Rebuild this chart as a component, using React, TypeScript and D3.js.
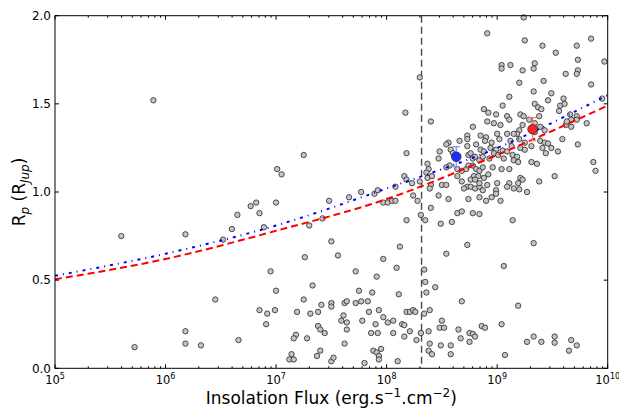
import React from "react";
import * as d3 from "d3";

// planets: [log10 insolation flux, radius in R_Jup]
const coolPlanets: [number, number][] = [
  [5.89, 1.52], [5.6, 0.75], [5.72, 0.12], [6.18, 0.21], [6.18, 0.14], [6.32, 0.13],
  [6.45, 0.39], [6.66, 0.16], [6.18, 0.76], [6.52, 0.73], [6.6, 0.79], [6.65, 0.87],
  [6.77, 0.92], [6.82, 0.94], [6.85, 0.88], [6.85, 0.33], [7.25, 1.21], [7.01, 1.13],
  [7.05, 1.1], [7.0, 0.94], [6.89, 0.8], [7.3, 0.81], [7.42, 0.85], [7.48, 0.95],
  [7.66, 0.97], [7.77, 1.0], [7.89, 0.99], [7.92, 1.01], [7.97, 0.94], [8.01, 0.94],
  [8.05, 0.95], [8.08, 0.95], [8.08, 1.03], [7.5, 0.72], [7.56, 0.64], [7.26, 0.63],
  [6.95, 0.55], [7.97, 0.62], [8.09, 0.57], [7.72, 0.55], [7.91, 0.52], [7.0, 0.44],
  [7.33, 0.47], [7.75, 0.44], [7.87, 0.43], [8.11, 0.42], [7.25, 0.39], [7.41, 0.36],
  [7.5, 0.37], [7.5, 0.35], [7.62, 0.37], [7.64, 0.38], [7.72, 0.37], [7.77, 0.38],
  [7.83, 0.38], [6.92, 0.31], [6.99, 0.33], [6.91, 0.25], [7.19, 0.32], [7.31, 0.31],
  [7.38, 0.32], [7.84, 0.32], [7.93, 0.33], [7.97, 0.29], [7.61, 0.3], [7.59, 0.27],
  [7.64, 0.26], [7.64, 0.22], [7.78, 0.27], [7.9, 0.25], [8.01, 0.26], [8.06, 0.27],
  [7.38, 0.24], [7.4, 0.22], [7.44, 0.2], [7.18, 0.19], [7.16, 0.17], [7.28, 0.17],
  [7.62, 0.14], [7.86, 0.2], [7.92, 0.2], [8.06, 0.2], [7.14, 0.08], [7.12, 0.05],
  [7.16, 0.05], [7.4, 0.1], [7.37, 0.07], [7.5, 0.04], [7.52, 0.06], [7.88, 0.1],
  [7.91, 0.09], [7.95, 0.11], [7.93, 0.07], [7.93, 0.05], [7.8, 0.03], [8.1, 0.04],
  [8.12, 0.69], [8.14, 0.25],
];

const warmPlanets: [number, number][] = [
  [8.18, 1.22], [8.16, 1.09], [8.18, 0.84], [8.24, 0.98], [8.23, 1.05], [8.28, 0.95],
  [8.31, 0.87], [8.35, 0.84], [8.38, 1.13], [8.37, 1.16], [8.34, 0.56], [8.35, 0.49],
  [8.36, 0.43], [8.16, 0.245], [8.18, 0.32], [8.21, 0.32], [8.24, 0.33], [8.26, 0.32],
  [8.34, 0.31], [8.21, 0.21], [8.31, 0.2], [8.16, 0.18], [8.27, 0.16], [8.38, 0.21],
  [8.38, 0.1], [8.17, 1.45], [8.4, 1.4], [8.18, 1.07], [8.3, 1.06], [8.37, 1.08],
  [8.4, 1.04], [8.39, 1.02], [8.36, 1.11], [8.41, 1.09], [8.4, 0.91], [8.3, 1.65],
  [8.39, 0.33], [8.39, 0.14], [8.41, 0.08], [8.44, 0.46],
];

const hotPlanets: [number, number][] = [
  [8.78, 1.37], [8.73, 1.32], [8.73, 1.3], [8.66, 1.29], [8.56, 1.28], [8.54, 1.27],
  [8.81, 1.27], [8.48, 1.23], [8.58, 1.24], [8.6, 1.22], [8.73, 1.26], [8.74, 1.21],
  [8.76, 1.22], [8.78, 1.19], [8.84, 1.18], [8.47, 1.19], [8.57, 1.15], [8.54, 1.14],
  [8.64, 1.13], [8.68, 1.12], [8.72, 1.13], [8.74, 1.15], [8.78, 1.15], [8.81, 1.13],
  [8.84, 1.12], [8.79, 1.09], [8.83, 1.09], [8.76, 1.07], [8.8, 1.07], [8.64, 1.09],
  [8.68, 1.06], [8.73, 1.03], [8.76, 1.03], [8.8, 1.02], [8.84, 1.03], [8.7, 1.02],
  [8.84, 0.97], [8.74, 0.96], [8.5, 1.04], [8.54, 1.04], [8.47, 0.98], [8.56, 0.96],
  [8.64, 0.88], [8.68, 0.89], [8.78, 0.88], [8.84, 0.875], [8.49, 0.82], [8.59, 0.83],
  [8.73, 0.7], [8.54, 0.65], [8.68, 0.38], [8.5, 0.27], [8.48, 0.23], [8.52, 0.23],
  [8.86, 0.24], [8.89, 0.23], [8.65, 0.22], [8.75, 0.2], [8.78, 0.195], [8.8, 0.18],
  [8.67, 0.17], [8.75, 0.15], [8.49, 0.13], [8.58, 0.13], [8.58, 0.08],
];

const veryHotPlanets: [number, number][] = [
  [9.11, 1.54], [9.33, 1.57], [9.49, 1.56], [9.05, 1.49], [8.88, 1.47], [8.92, 1.45],
  [8.99, 1.44], [9.09, 1.43], [9.11, 1.41], [8.91, 1.4], [8.97, 1.39], [9.03, 1.38],
  [9.21, 1.44], [9.24, 1.43], [9.23, 1.38], [9.34, 1.5], [9.37, 1.48], [9.4, 1.47],
  [9.38, 1.43], [9.46, 1.52], [9.57, 1.49], [9.61, 1.5], [9.56, 1.46], [9.62, 1.38],
  [9.29, 1.41], [9.34, 1.39], [9.34, 1.34], [9.39, 1.37], [9.43, 1.35], [9.2, 1.35],
  [9.18, 1.33], [9.15, 1.33], [9.09, 1.33], [9.0, 1.33], [8.85, 1.32], [8.9, 1.31],
  [8.89, 1.29], [9.02, 1.3], [8.95, 1.28], [9.12, 1.29], [9.2, 1.3], [9.25, 1.28],
  [9.39, 1.29], [9.43, 1.28], [9.46, 1.275], [9.59, 1.3], [9.13, 1.26], [9.21, 1.25],
  [9.25, 1.24], [9.31, 1.26], [9.41, 1.25], [9.49, 1.25], [9.44, 1.22], [9.55, 1.23],
  [8.94, 1.25], [8.99, 1.24], [9.05, 1.235], [9.09, 1.23], [8.85, 1.24], [8.88, 1.23],
  [8.8, 1.2], [8.97, 1.22], [9.01, 1.21], [9.14, 1.21], [9.18, 1.2], [8.87, 1.2],
  [8.93, 1.19], [9.06, 1.19], [9.15, 1.18], [9.19, 1.17], [9.31, 1.17], [9.36, 1.16],
  [8.87, 1.14], [8.96, 1.14], [9.04, 1.13], [9.11, 1.13], [8.92, 1.1], [8.88, 1.08],
  [8.84, 1.05], [8.91, 1.04], [9.0, 1.05], [9.11, 1.05], [9.21, 1.08], [9.23, 1.07],
  [9.19, 1.05], [9.15, 1.02], [9.2, 1.015], [9.38, 1.06], [9.52, 1.09], [9.27, 1.0],
  [8.99, 1.01], [8.9, 0.95], [8.95, 0.97], [9.03, 0.95], [9.14, 0.84], [9.33, 0.71],
  [9.09, 1.03], [8.99, 0.99], [8.87, 1.01], [9.06, 0.58], [9.19, 0.355], [9.04, 0.25],
  [9.07, 0.075], [9.27, 0.15], [9.33, 0.18], [9.4, 0.15], [9.52, 0.18], [9.52, 0.145],
  [9.67, 0.16], [9.72, 0.13], [9.65, 0.1], [9.85, 1.87], [9.72, 1.83], [9.53, 1.79],
  [9.73, 1.75], [9.97, 1.74], [9.73, 1.69], [9.72, 1.67], [9.62, 1.67], [9.85, 1.61],
  [9.6, 1.53], [9.95, 1.53], [9.66, 1.44], [9.72, 1.43], [9.72, 1.41], [9.67, 1.41],
  [9.63, 1.4], [9.67, 1.37], [9.81, 1.39], [9.73, 1.27], [9.87, 1.17], [9.89, 1.12],
  [9.24, 1.99], [8.91, 1.9], [9.25, 1.86], [9.41, 1.83], [9.04, 1.72], [9.12, 1.72],
  [9.04, 1.7], [9.34, 1.73], [9.33, 1.7], [9.23, 1.69], [9.42, 1.63], [9.2, 1.62],
];

// fitted relations, read at each decade
const fitFluxExp = [5, 6, 7, 8, 9, 10];
const fitRed = [0.505, 0.62, 0.78, 0.96, 1.21, 1.49];
const fitBlue = [0.525, 0.65, 0.81, 1.02, 1.25, 1.55];

// mean points with error bars
const meanFluxExp = [8.63, 9.32];
const meanRadius = [1.2, 1.356];
const meanErr = [0.057, 0.066];
const meanColors = ["#1a2cff", "#ff2222"];
const meanBarColors = ["#7f7fff", "#ff7070"];

const boundaryFlux = 2.07e8;

const yTicks = [0, 0.5, 1.0, 1.5, 2.0];
const xDecades = [5, 6, 7, 8, 9, 10];

const W = 619;
const H = 409;
const font = "DejaVu Sans, sans-serif";

export default function App() {
  const x = d3.scaleLog().domain([1e5, 1e10]).range([55, 607.7]);
  const y = d3.scaleLinear().domain([0, 2]).range([368.3, 15.7]);
  const [x0, x1] = x.range();
  const [y0, y1] = y.range();

  const minorTicks: number[] = [];
  for (let e = 5; e < 10; e++) for (let m = 2; m <= 9; m++) minorTicks.push(m * 10 ** e);

  const line = d3
    .line<number>()
    .x((_, i) => x(10 ** fitFluxExp[i]))
    .curve(d3.curveMonotoneX);

  const allPlanets = [...coolPlanets, ...warmPlanets, ...hotPlanets, ...veryHotPlanets];

  return (
    <svg
      width={W}
      height={H}
      style={{ position: "absolute", left: 0, top: 0, background: "#fff" }}
      fontFamily={font}
    >
      <rect width={W} height={H} fill="#fff" />

      <line
        x1={x(boundaryFlux)}
        x2={x(boundaryFlux)}
        y1={y1}
        y2={y0}
        stroke="#4a4a4a"
        strokeWidth={1.4}
        strokeDasharray="7,4"
      />

      <g>
        {allPlanets.map((d, i) => (
          <circle
            key={i}
            cx={x(10 ** d[0])}
            cy={y(d[1])}
            r={2.7}
            fill="#c4c4c4"
            stroke="#262626"
            strokeWidth={0.8}
          />
        ))}
      </g>

      <path
        d={line.y((v) => y(v))(fitRed) || ""}
        fill="none"
        stroke="#ff0000"
        strokeWidth={2}
        strokeDasharray="7,4"
      />
      <path
        d={line.y((v) => y(v))(fitBlue) || ""}
        fill="none"
        stroke="#0000ff"
        strokeWidth={2}
        strokeDasharray="3,5,1,5"
      />

      {meanFluxExp.map((e, i) => {
        const cx = x(10 ** e);
        const lo = y(meanRadius[i] - meanErr[i]);
        const hi = y(meanRadius[i] + meanErr[i]);
        return (
          <g key={i}>
            <line x1={cx} x2={cx} y1={lo} y2={hi} stroke={meanBarColors[i]} strokeWidth={1.2} />
            <line x1={cx - 3.5} x2={cx + 3.5} y1={lo} y2={lo} stroke={meanBarColors[i]} strokeWidth={1.2} />
            <line x1={cx - 3.5} x2={cx + 3.5} y1={hi} y2={hi} stroke={meanBarColors[i]} strokeWidth={1.2} />
            <circle cx={cx} cy={y(meanRadius[i])} r={4.8} fill={meanColors[i]} stroke="#222" strokeWidth={0.7} />
          </g>
        );
      })}

      {/* ticks, inward on all sides */}
      <g stroke="#000" strokeWidth={1}>
        {xDecades.map((e) => {
          const px = x(10 ** e);
          return (
            <g key={e}>
              <line x1={px} x2={px} y1={y0} y2={y0 - 4} />
              <line x1={px} x2={px} y1={y1} y2={y1 + 4} />
            </g>
          );
        })}
        {minorTicks.map((v) => {
          const px = x(v);
          return (
            <g key={v}>
              <line x1={px} x2={px} y1={y0} y2={y0 - 2} />
              <line x1={px} x2={px} y1={y1} y2={y1 + 2} />
            </g>
          );
        })}
        {yTicks.map((v) => (
          <g key={v}>
            <line x1={x0} x2={x0 + 4} y1={y(v)} y2={y(v)} />
            <line x1={x1} x2={x1 - 4} y1={y(v)} y2={y(v)} />
          </g>
        ))}
      </g>

      <rect x={x0} y={y1} width={x1 - x0} height={y0 - y1} fill="none" stroke="#000" strokeWidth={1} />

      <g fill="#000">
        {yTicks.map((v) => (
          <text key={v} x={x0 - 4} y={y(v)} dy="0.35em" textAnchor="end" fontSize={12}>
            {d3.format(".1f")(v)}
          </text>
        ))}
        {xDecades.map((e) => (
          <text key={e} x={x(10 ** e)} y={384} textAnchor="middle" fontSize={11.5}>
            10
            <tspan dy={-5} fontSize={8}>
              {e}
            </tspan>
          </text>
        ))}
      </g>

      <text x={(x0 + x1) / 2} y={404} textAnchor="middle" fontSize={17}>
        Insolation Flux (erg.s
        <tspan dy={-7} fontSize={12}>
          −1
        </tspan>
        <tspan dy={7}>.cm</tspan>
        <tspan dy={-7} fontSize={12}>
          −2
        </tspan>
        <tspan dy={7}>)</tspan>
      </text>

      <text transform={`translate(25,${(y0 + y1) / 2}) rotate(-90)`} textAnchor="middle" fontSize={17}>
        R
        <tspan dy={4} fontSize={12} fontStyle="italic">
          p
        </tspan>
        <tspan dy={-4}> (R</tspan>
        <tspan dy={4} fontSize={12} fontStyle="italic">
          Jup
        </tspan>
        <tspan dy={-4}>)</tspan>
      </text>
    </svg>
  );
}
